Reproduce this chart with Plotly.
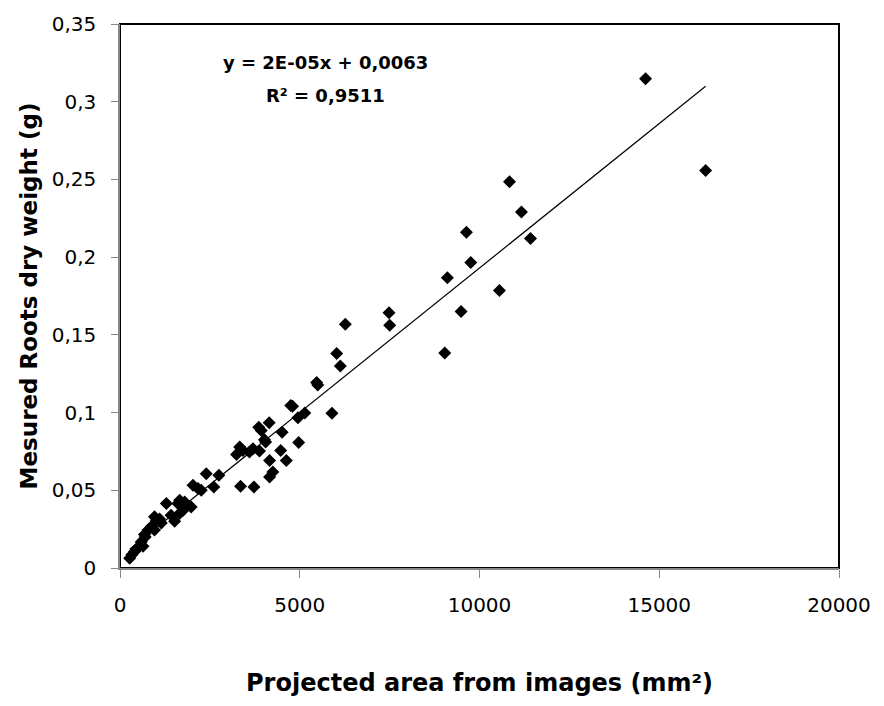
import numpy as np
import plotly.graph_objects as go

# Projected area from images (mm²) and measured root dry weight (g)
area_mm2 = [270, 330, 400, 460, 520, 640, 590, 700, 680, 780, 960, 870, 1150, 960, 1100,
            1520, 1420, 1010, 1290, 1610, 1660, 1800, 1980, 1750, 1656, 2030, 2170, 2260,
            2400, 2750, 2610, 3354, 3725, 3240, 3330, 3420, 3600, 3700, 3880, 3860, 3930,
            4020, 4050, 4150, 4160, 4250, 4160, 4470, 4510, 4626, 4750, 4800, 4950, 5140,
            4970, 5896, 5470, 5500, 6027, 6129, 6268, 7483, 7502, 9033, 9107, 9487, 9636,
            9756, 10555, 10834, 11167, 11418, 14620, 16290]
dry_weight_g = [0.0063, 0.0085, 0.0105, 0.0120, 0.0137, 0.0140, 0.0168, 0.0200, 0.0215,
                0.0245, 0.0245, 0.0265, 0.0290, 0.0330, 0.0315, 0.0300, 0.0340, 0.0308,
                0.0415, 0.0415, 0.0436, 0.0425, 0.0393, 0.0370, 0.0350, 0.0532, 0.0511,
                0.0500, 0.0607, 0.0596, 0.0521, 0.0526, 0.0521, 0.0731, 0.0778, 0.0756,
                0.0746, 0.0767, 0.0752, 0.0906, 0.0885, 0.0825, 0.0810, 0.0934, 0.0692,
                0.0617, 0.0585, 0.0756, 0.0874, 0.0692, 0.1045, 0.1040, 0.0966, 0.0998,
                0.0808, 0.0996, 0.1194, 0.1177, 0.1380, 0.1299, 0.1569, 0.1643, 0.1562,
                0.1383, 0.1868, 0.1650, 0.2160, 0.1965, 0.1785, 0.2485, 0.2290, 0.2120,
                0.3147, 0.2557]

x_tickvals = [0, 5000, 10000, 15000, 20000]
x_ticktext = ["0", "5000", "10000", "15000", "20000"]
y_tickvals = [0, 0.05, 0.1, 0.15, 0.2, 0.25, 0.3, 0.35]
y_ticktext = ["0", "0,05", "0,1", "0,15", "0,2", "0,25", "0,3", "0,35"]

equation_text = "y = 2E-05x + 0,0063"
r2_text = "R² = 0,9511"

FONT = "DejaVu Sans"

x = np.array(area_mm2, dtype=float)
y = np.array(dry_weight_g, dtype=float)
slope, intercept = np.polyfit(x, y, 1)
line_x = np.array([x.min(), x.max()])
line_y = slope * line_x + intercept

fig = go.Figure()
fig.add_trace(go.Scatter(x=line_x, y=line_y, mode="lines",
                         line=dict(color="black", width=1.2), showlegend=False,
                         hoverinfo="skip"))
fig.add_trace(go.Scatter(x=area_mm2, y=dry_weight_g, mode="markers",
                         marker=dict(symbol="diamond", size=10, color="black",
                                     line=dict(width=0)),
                         showlegend=False))

fig.add_annotation(x=5720, y=0.325, xref="x", yref="y", text="<b>" + equation_text + "</b>",
                   showarrow=False, font=dict(family=FONT, size=18, color="black"))
fig.add_annotation(x=5720, y=0.304, xref="x", yref="y", text="<b>" + r2_text + "</b>",
                   showarrow=False, font=dict(family=FONT, size=18, color="black"))

fig.add_shape(type="rect", xref="paper", yref="paper", x0=0, y0=0, x1=1, y1=1,
              line=dict(color="black", width=2), layer="below")

fig.update_xaxes(range=[0, 20000], tickvals=x_tickvals, ticktext=x_ticktext,
                 showgrid=False, zeroline=False, showline=True, linecolor="#868686",
                 linewidth=1.5, ticks="outside", ticklen=8, tickcolor="#868686",
                 tickwidth=1, ticklabelstandoff=10,
                 tickfont=dict(family=FONT, size=20, color="black"),
                 title=dict(text="<b>Projected area from images (mm²)</b>",
                            font=dict(family=FONT, size=24, color="black"), standoff=58))
fig.update_yaxes(range=[0, 0.35], tickvals=y_tickvals, ticktext=y_ticktext,
                 showgrid=False, zeroline=False, showline=True, linecolor="#868686",
                 linewidth=1.5, ticks="outside", ticklen=7, tickcolor="#868686",
                 tickwidth=1, ticklabelstandoff=11,
                 tickfont=dict(family=FONT, size=20, color="black"),
                 title=dict(text="<b>Mesured Roots dry weight (g)</b>",
                            font=dict(family=FONT, size=23, color="black"), standoff=8))

fig.update_layout(width=876, height=698, margin=dict(l=112, r=45, t=16, b=138, autoexpand=False),
                  plot_bgcolor="white", paper_bgcolor="white")

fig.write_html("out.html")
